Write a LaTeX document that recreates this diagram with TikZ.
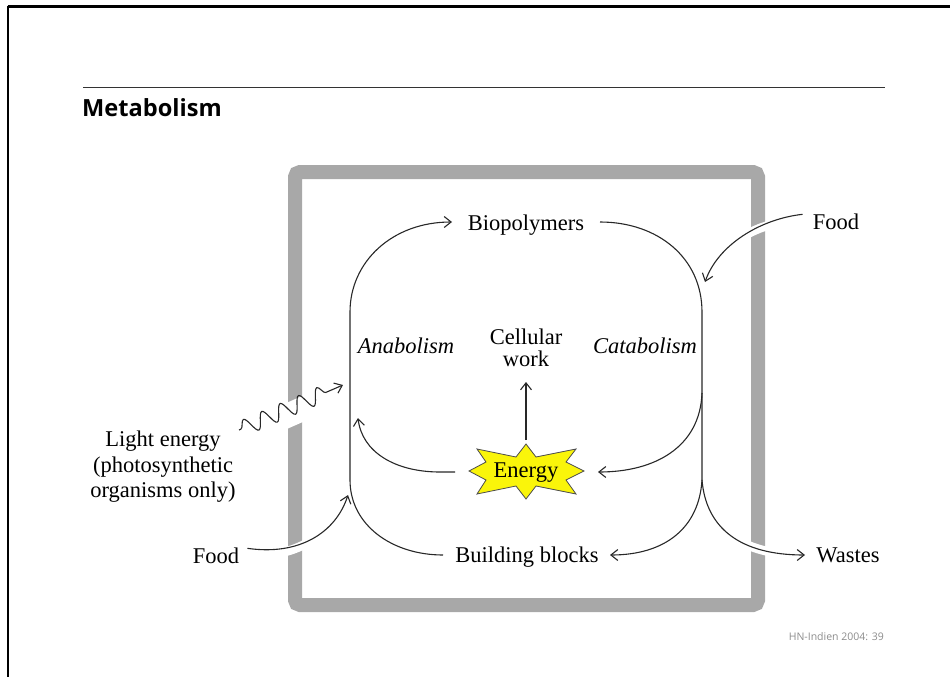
\documentclass[tikz,border=0pt]{standalone}
\usepackage{fontspec}
\setmainfont{Liberation Serif}
\newfontfamily\titlefont{Open Sans}
\usetikzlibrary{arrows.meta,decorations.pathmorphing}
\definecolor{framegray}{RGB}{168,168,168}
\definecolor{linecol}{RGB}{40,40,40}
\definecolor{staryellow}{RGB}{250,245,10}
\tikzset{
  lbl/.style={inner sep=0pt, font=\fontsize{22.5}{26}\selectfont},
  ilbl/.style={lbl, font=\fontsize{22.5}{26}\selectfont\itshape},
  flow/.style={draw=linecol, line width=1.1pt, -{Straight Barb[length=7pt,width=11pt,line width=1.1pt]}},
  plain/.style={draw=linecol, line width=1.1pt},
  gapline/.style={draw=white, line width=9pt},
}
\begin{document}
\begin{tikzpicture}[x=1pt,y=-1pt]
\useasboundingbox (0,0) rectangle (950,677);
% page borders
\draw[line width=2.2pt] (7.7,6.5) -- (950,6.5);
\draw[line width=2.2pt] (7.7,6.5) -- (7.7,677);
% title
\draw[line width=1pt, black!80] (83,87) -- (885,87);
\node[anchor=base west, inner sep=0pt, font=\titlefont\bfseries\fontsize{23.6}{26}\selectfont] (title) at (82,116) {Metabolism};
\node[anchor=base east, inner sep=0pt, text=black!45, font=\titlefont\fontsize{10.5}{12}\selectfont] (foot) at (884,640) {HN-Indien 2004: 39};
% grey frame
\draw[framegray, line width=14pt, rounded corners=5pt] (295,172) rectangle (758,605);
% gaps in the frame
\begin{scope}
  \clip (280,150) rectangle (310,620);
  \draw[draw=white, line width=24pt] (237,438) -- (343,391);
  \draw[gapline] (252,556) .. controls (300,556) and (336,532) .. (348,495);
\end{scope}
\begin{scope}
  \clip (745,150) rectangle (775,620);
  \draw[gapline] (800,222) .. controls (760,219) and (718,245) .. (705,282);
  \draw[gapline] (702,480) .. controls (706,528) and (740,555) .. (805,555);
\end{scope}
% labels
\node[lbl, anchor=base] (bio) at (526,230) {Biopolymers};
\node[lbl, anchor=base] (bb) at (527,562) {Building blocks};
\node[ilbl, anchor=base] (ana) at (406,353) {Anabolism};
\node[ilbl, anchor=base] (cata) at (645,353) {Catabolism};
\node[lbl, anchor=base] (cell) at (526,344) {Cellular};
\node[lbl, anchor=base] (work) at (526,366) {work};
\node[lbl, anchor=base] (foodR) at (836,229) {Food};
\node[lbl, anchor=base] (foodL) at (216,563) {Food};
\node[lbl, anchor=base] (wastes) at (848,562) {Wastes};
\node[lbl, anchor=base] (light1) at (163,446) {Light energy};
\node[lbl, anchor=base] (light2) at (163,472) {(photosynthetic};
\node[lbl, anchor=base] (light3) at (163,497) {organisms only)};
% energy star
\draw[fill=staryellow, draw=black!70, line width=0.8pt]
  (526,444) -- (536,457) -- (576,449) -- (566,462) -- (584,471) -- (566,480) -- (576,494)
  -- (536,486) -- (526,499) -- (516,486) -- (477,494) -- (486,480) -- (469,471)
  -- (486,462) -- (477,449) -- (516,457) -- cycle;
\node[lbl, anchor=base] (energy) at (526,477) {Energy};
% main cycle
\draw[flow] (443,555) .. controls (392,555) and (350,525) .. (350,480) -- (350,312)
  .. controls (350,262) and (392,222) .. (452,222);
\draw[plain] (600,222) .. controls (658,222) and (702,258) .. (702,312) -- (702,480);
\draw[flow] (702,480) .. controls (699,528) and (665,555) .. (610,555);
\draw[flow] (702,480) .. controls (706,528) and (740,555) .. (805,555);
\draw[flow] (702,393) .. controls (700,447) and (655,472) .. (598,472);
\draw[flow] (455,472) -- (440,472) .. controls (395,472) and (362,452) .. (358,418);
\draw[flow] (526,440) -- (work.south |- 0,382);
% inputs
\draw[flow] (foodL.east) ++(8,-7) .. controls (300,556) and (336,532) .. (348,495);
\draw[flow] (foodR.west) ++(-10,-7) .. controls (760,219) and (718,245) .. (705,282);
\draw[flow, decorate, decoration={snake, amplitude=8pt, segment length=20pt, pre length=2pt, post length=9pt}] (239,430) -- (343,385);
\end{tikzpicture}
\end{document}
